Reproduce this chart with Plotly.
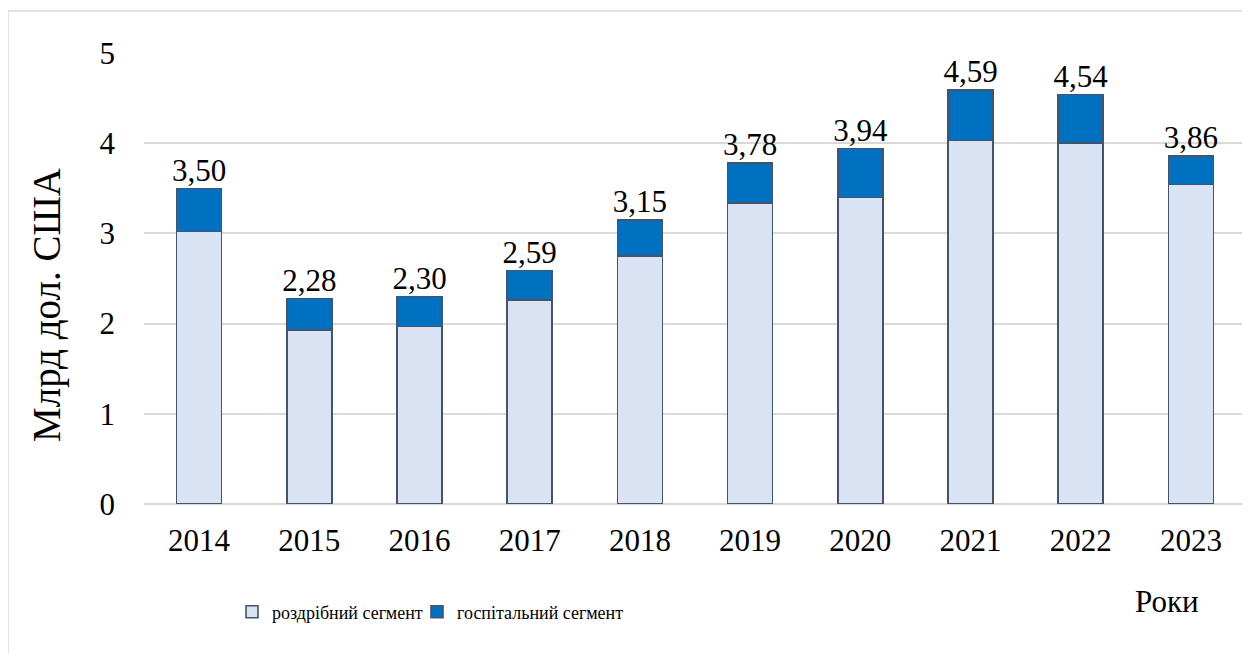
import plotly.graph_objects as go

years = ["2014", "2015", "2016", "2017", "2018", "2019", "2020", "2021", "2022", "2023"]
retail = [3.02, 1.93, 1.97, 2.26, 2.75, 3.34, 3.40, 4.03, 4.00, 3.54]
totals = [3.50, 2.28, 2.30, 2.59, 3.15, 3.78, 3.94, 4.59, 4.54, 3.86]
hospital = [round(t - r, 2) for t, r in zip(totals, retail)]

series_names = ["роздрібний сегмент", "госпітальний сегмент"]
y_title = "Млрд дол. США"
x_title = "Роки"

FONT = "Liberation Serif"
LINE = "#44546A"

fig = go.Figure()
fig.add_trace(go.Bar(
    x=years, y=retail, name=series_names[0],
    marker=dict(color="#DAE3F3", line=dict(color=LINE, width=1.6)),
    legend="legend",
))
fig.add_trace(go.Bar(
    x=years, y=hospital, name=series_names[1],
    marker=dict(color="#0070C0", line=dict(color=LINE, width=1.6)),
    legend="legend2",
))
fig.add_trace(go.Scatter(
    x=years, y=totals, mode="text",
    text=[f"{v:.2f}".replace(".", ",") for v in totals],
    textposition="top center",
    textfont=dict(family=FONT, size=31, color="#000000"),
    showlegend=False, hoverinfo="skip",
))

# page offset (body margin) compensation
OFF = 8
W, H = 1250, 653
L = 144 - OFF
R = W - (1246 - OFF)
T = 53 - OFF
B = H - (504 - OFF)
pw = W - L - R
ph = H - T - B

def px_x(x):
    return (x - OFF - L) / pw

def px_y(y):
    return (H - B - (y - OFF)) / ph

legend_font = dict(family=FONT, size=18, color="#000000")

fig.update_layout(
    width=W, height=H, autosize=False,
    margin=dict(l=L, r=R, t=T, b=B),
    barmode="stack", bargap=0.59,
    paper_bgcolor="white", plot_bgcolor="white",
    font=dict(family=FONT, size=31, color="#000000"),
    legend=dict(
        orientation="h", x=px_x(232), y=px_y(612), xanchor="left", yanchor="middle",
        font=legend_font, bgcolor="rgba(0,0,0,0)",
        itemwidth=30, tracegroupgap=0,
    ),
    legend2=dict(
        orientation="h", x=px_x(417), y=px_y(612), xanchor="left", yanchor="middle",
        font=legend_font, bgcolor="rgba(0,0,0,0)",
        itemwidth=30, tracegroupgap=0,
    ),
    xaxis=dict(
        type="category", showgrid=False, showline=False, ticks="",
        tickfont=dict(family=FONT, size=31), ticklabelstandoff=15,
    ),
    yaxis=dict(
        range=[0, 5], dtick=1, showgrid=True, gridcolor="#D9D9D9", gridwidth=1.5,
        zeroline=True, zerolinecolor="#D9D9D9", zerolinewidth=1.5,
        showline=False, ticks="",
        tickfont=dict(family=FONT, size=31), ticklabelstandoff=28,
    ),
    shapes=[dict(
        type="rect", xref="paper", yref="paper",
        x0=px_x(8), x1=px_x(1247), y0=px_y(720), y1=px_y(11),
        line=dict(color="#D9D9D9", width=1.5), fillcolor="rgba(0,0,0,0)", layer="below",
    )],
    annotations=[
        dict(text=y_title, xref="paper", yref="paper", x=px_x(47), y=px_y(305),
             xanchor="center", yanchor="middle", textangle=-90, showarrow=False,
             font=dict(family=FONT, size=39)),
        dict(text=x_title, xref="paper", yref="paper", x=px_x(1167), y=px_y(601),
             xanchor="center", yanchor="middle", showarrow=False,
             font=dict(family=FONT, size=31)),
    ],
)

fig.write_html("out.html")
